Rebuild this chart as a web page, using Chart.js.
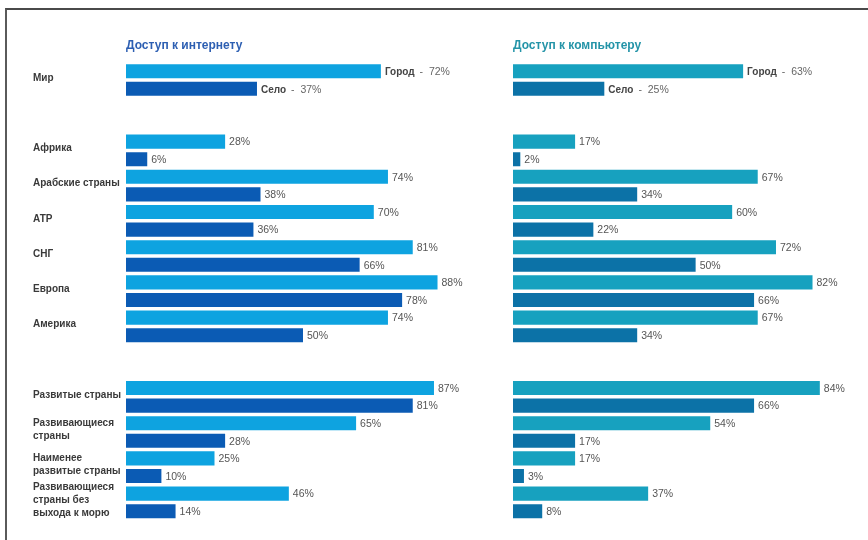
<!DOCTYPE html>
<html>
<head>
<meta charset="utf-8">
<script src="https://cdn.jsdelivr.net/npm/chart.js@4"></script>
<style>
  html, body { margin: 0; padding: 0; background: #fff; }
  #wrap { position: relative; width: 868px; height: 540px; overflow: hidden; }
  #frame { position: absolute; left: 5px; top: 8px; right: -4px; bottom: -4px;
           border-top: 2px solid #4a4a4a; border-left: 2px solid #5a5a5a; }
  canvas { position: absolute; top: 0; }
  #internet { left: 0; }
  #computer { left: 460px; }
</style>
</head>
<body>
<div id="wrap">
  <div id="frame"></div>
  <canvas id="internet" width="500" height="540"></canvas>
  <canvas id="computer" width="408" height="540"></canvas>
</div>
<script>
// groups, top to bottom
const categories = [
  ['Мир'],
  ['Африка'],
  ['Арабские страны'],
  ['АТР'],
  ['СНГ'],
  ['Европа'],
  ['Америка'],
  ['Развитые страны'],
  ['Развивающиеся', 'страны'],
  ['Наименее', 'развитые страны'],
  ['Развивающиеся', 'страны без', 'выхода к морю']
];

// percent of population
const internetUrban = [72, 28, 74, 70, 81, 88, 74, 87, 65, 25, 46];
const internetRural = [37, 6, 38, 36, 66, 78, 50, 81, 28, 10, 14];
const computerUrban = [63, 17, 67, 60, 72, 82, 67, 84, 54, 17, 37];
const computerRural = [25, 2, 34, 22, 50, 66, 34, 66, 17, 3, 8];

const seriesNames = ['Город', 'Село'];

// empty rows after "Мир" and after "Америка"
const gapAfter = [0, 6];
function withGaps(arr, filler) {
  const out = [];
  arr.forEach((v, i) => {
    out.push(v);
    if (gapAfter.includes(i)) out.push(filler);
  });
  return out;
}

const barLabels = {
  id: 'barLabels',
  afterDatasetsDraw(chart) {
    const ctx = chart.ctx;
    ctx.save();
    ctx.textBaseline = 'middle';
    ctx.textAlign = 'left';
    chart.data.datasets.forEach((ds, di) => {
      const meta = chart.getDatasetMeta(di);
      meta.data.forEach((bar, i) => {
        const v = ds.data[i];
        if (v == null) return;
        let x = bar.x + 4;
        const y = bar.y + 1;
        if (i === 0) {
          ctx.font = 'bold 10px "Liberation Sans", Arial, sans-serif';
          ctx.fillStyle = '#444';
          ctx.fillText(ds.label, x, y);
          x += ctx.measureText(ds.label).width + 5;
          ctx.font = '10.5px "Liberation Sans", Arial, sans-serif';
          ctx.fillStyle = '#666';
          ctx.fillText('-  ' + v + '%', x, y);
        } else {
          ctx.font = '10.5px "Liberation Sans", Arial, sans-serif';
          ctx.fillStyle = '#555';
          ctx.fillText(v + '%', x, y);
        }
      });
    });
    ctx.restore();
  }
};

function makeChart(id, title, titleColor, urban, rural, colors, showLabels, padLeft, padRight, xMax) {
  new Chart(document.getElementById(id), {
    type: 'bar',
    data: {
      labels: withGaps(categories, ''),
      datasets: [
        { label: seriesNames[0], data: withGaps(urban, null), backgroundColor: colors[0],
          barPercentage: 0.8, categoryPercentage: 1.0 },
        { label: seriesNames[1], data: withGaps(rural, null), backgroundColor: colors[1],
          barPercentage: 0.8, categoryPercentage: 1.0 }
      ]
    },
    options: {
      indexAxis: 'y',
      responsive: false,
      animation: false,
      layout: { padding: { left: padLeft, right: padRight, top: 0, bottom: 20 } },
      plugins: {
        legend: { display: false },
        tooltip: { enabled: false },
        title: {
          display: true,
          text: title,
          align: 'start',
          fullSize: false,
          color: titleColor,
          font: { family: '"Liberation Sans", Arial, sans-serif', size: 12, weight: 'bold', lineHeight: 1.2 },
          padding: { top: 38, bottom: 10 }
        }
      },
      scales: {
        x: { display: false, min: 0, max: xMax },
        y: {
          display: showLabels,
          grid: { display: false, drawTicks: false },
          border: { display: false },
          ticks: {
            autoSkip: false,
            crossAlign: 'far',
            labelOffset: -2,
            color: '#3a3a3a',
            font: { family: '"Liberation Sans", Arial, sans-serif', size: 10, weight: 'bold', lineHeight: 1.3 }
          },
          afterFit(scale) { if (showLabels) scale.width = 93; }
        }
      }
    },
    plugins: [barLabels]
  });
}

makeChart('internet', 'Доступ к интернету', '#2d5fb2', internetUrban, internetRural,
  ['#0ea3e0', '#0b5bb4'], true, 33, 20, 100);
makeChart('computer', 'Доступ к компьютеру', '#2494a8', computerUrban, computerRural,
  ['#17a1bf', '#0c72a7'], false, 53, 8, 95);
</script>
</body>
</html>
